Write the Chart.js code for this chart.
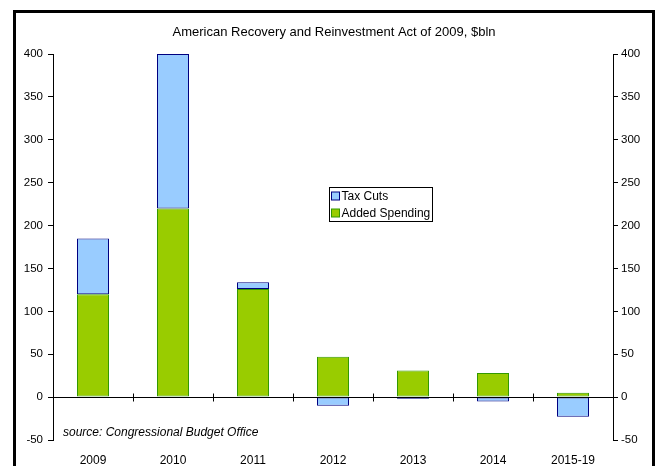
<html>
<head>
<script src="https://cdn.jsdelivr.net/npm/chart.js"></script>
<title>ARRA 2009</title>
<style>
  body { margin: 0; background: #fff; overflow: hidden; }
  .frame {
    position: absolute; left: 13px; top: 10px; width: 642px; height: 470px;
    border: 3px solid #000; box-sizing: border-box;
  }
  .chart-wrapper {
    position: absolute; left: 0; top: 0; width: 636px; height: 453px;
  }
</style>
</head>
<body>
<div class="frame">
  <div class="chart-wrapper"><canvas id="chart-1"></canvas></div>
</div>

<script>
  const years = ['2009', '2010', '2011', '2012', '2013', '2014', '2015-19'];
  const taxCuts = [65, 180, 8, -10, -2, -5, -23];
  const addedSpending = [120, 220, 126, 47, 31, 28, 5];

  const titleText = 'American Recovery and Reinvestment Act of 2009, $bln';
  const sourceText = 'source: Congressional Budget Office';
  const fontFamily = "'Liberation Sans', Arial, sans-serif";

  // zero line tick marks, source note and the boxed legend inside the plot
  const extras = {
    id: 'extras',
    afterDatasetsDraw(chart) {
      const ctx = chart.ctx;
      const x = chart.scales.x;
      const y = chart.scales.y;
      const area = chart.chartArea;
      const y0 = Math.round(y.getPixelForValue(0)) + 0.5;

      ctx.save();
      ctx.strokeStyle = '#000';
      ctx.lineWidth = 1;
      ctx.beginPath();
      ctx.moveTo(area.left, y0);
      ctx.lineTo(area.right, y0);
      for (let i = 1; i < years.length; i++) {
        const px = Math.round((x.getPixelForValue(i - 1) + x.getPixelForValue(i)) / 2) + 0.5;
        ctx.moveTo(px, y0 - 4);
        ctx.lineTo(px, y0 + 4);
      }
      ctx.stroke();

      ctx.fillStyle = '#000';
      ctx.font = 'italic 12px ' + fontFamily;
      ctx.textBaseline = 'middle';
      ctx.textAlign = 'left';
      ctx.fillText(sourceText, area.left + 10, area.bottom - 7);

      // legend
      const items = [chart.data.datasets[1], chart.data.datasets[0]];
      ctx.font = '12px ' + fontFamily;
      let w = 0;
      items.forEach(d => { w = Math.max(w, ctx.measureText(d.label).width); });
      const bx = Math.round(area.left + 276) + 0.5;
      const by = Math.round(y.getPixelForValue(245)) + 0.5;
      const bw = Math.round(w + 14);
      const bh = 34;
      ctx.fillStyle = '#fff';
      ctx.fillRect(bx, by, bw, bh);
      ctx.strokeRect(bx, by, bw, bh);
      items.forEach((d, i) => {
        const cy = by + 8.5 + i * 17;
        ctx.fillStyle = d.backgroundColor;
        ctx.fillRect(bx + 2, cy - 4, 8, 8);
        ctx.strokeStyle = d.borderColor;
        ctx.strokeRect(bx + 2, cy - 4, 8, 8);
        ctx.fillStyle = '#000';
        ctx.fillText(d.label, bx + 12, cy + 0.5);
      });
      ctx.restore();
    }
  };

  const config = {
    type: 'bar',
    data: {
      labels: years,
      datasets: [
        {
          label: 'Added Spending',
          data: addedSpending,
          backgroundColor: '#99CC00',
          borderColor: '#339900',
          borderWidth: 1,
          borderSkipped: false,
          stack: 'arra'
        },
        {
          label: 'Tax Cuts',
          data: taxCuts,
          backgroundColor: '#99CCFF',
          borderColor: '#000080',
          borderWidth: 1,
          borderSkipped: false,
          stack: 'arra'
        }
      ]
    },
    options: {
      responsive: true,
      maintainAspectRatio: false,
      animation: false,
      events: [],
      categoryPercentage: 1,
      barPercentage: 0.4,
      layout: { padding: 0 },
      font: { family: fontFamily },
      scales: {
        x: {
          stacked: true,
          grid: { display: false, drawTicks: false },
          border: { display: false },
          ticks: { color: '#000', font: { size: 12, family: fontFamily }, padding: 13, maxRotation: 0 },
          afterFit(scale) { scale.height = 26; }
        },
        y: {
          stacked: true,
          position: 'left',
          min: -50,
          max: 400,
          grid: {
            color: 'rgba(0,0,0,0)',
            tickColor: '#000',
            tickLength: 5
          },
          border: { display: true, color: '#000' },
          ticks: { stepSize: 50, color: '#000', font: { size: 11.5, family: fontFamily }, padding: 5 },
          afterFit(scale) { scale.width = 37; }
        },
        y2: {
          position: 'right',
          min: -50,
          max: 400,
          grid: { drawOnChartArea: false, tickColor: '#000', tickLength: 5 },
          border: { display: true, color: '#000' },
          ticks: { stepSize: 50, color: '#000', font: { size: 11.5, family: fontFamily }, padding: 3 },
          afterFit(scale) { scale.width = 39; }
        }
      },
      plugins: {
        legend: { display: false },
        tooltip: { enabled: false },
        title: {
          display: true,
          text: titleText,
          color: '#000',
          font: { size: 13, weight: 'normal', family: fontFamily },
          padding: { top: 12, bottom: 13.4 }
        }
      }
    },
    plugins: [extras]
  };

  const chart = new Chart(document.getElementById('chart-1'), config);
</script>
</body>
</html>
